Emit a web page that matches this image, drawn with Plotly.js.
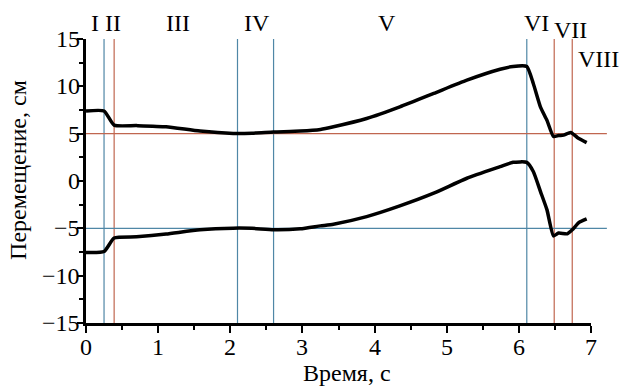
<!DOCTYPE html>
<html>
<head>
<meta charset="utf-8">
<script src="https://cdn.plot.ly/plotly-3.0.1.min.js"></script>
<style>html,body{margin:0;padding:0;background:#fff;}#chart{width:622px;height:390px;}</style>
</head>
<body>
<div id="chart"></div>
<script>
// Upper curve
const t1 = [0, 0.25, 0.39, 0.7, 1.11, 1.58, 2.04, 2.3, 2.6, 2.97, 3.25, 3.43, 3.89, 4.35, 4.82, 5.28, 5.74, 5.92, 6.11, 6.2, 6.3, 6.39, 6.48, 6.55, 6.62, 6.72, 6.81, 6.94];
const y1 = [7.4, 7.4, 5.9, 5.85, 5.73, 5.27, 5.03, 5.05, 5.17, 5.27, 5.45, 5.73, 6.6, 7.83, 9.25, 10.65, 11.8, 12.1, 12.1, 10.3, 7.8, 6.4, 4.7, 4.8, 4.85, 5.13, 4.6, 4.05];
// Lower curve
const t2 = [0, 0.25, 0.39, 0.7, 1.11, 1.58, 2.04, 2.3, 2.6, 2.97, 3.25, 3.43, 3.89, 4.35, 4.82, 5.28, 5.74, 5.92, 6.11, 6.2, 6.3, 6.39, 6.48, 6.55, 6.67, 6.74, 6.83, 6.94];
const y2 = [-7.55, -7.45, -6.03, -5.9, -5.6, -5.15, -4.98, -5.0, -5.15, -5.05, -4.74, -4.56, -3.76, -2.63, -1.29, 0.29, 1.51, 1.97, 1.97, 1.0, -1.12, -3.05, -5.8, -5.5, -5.58, -5.16, -4.39, -4.0];

// Tick labels
const xTickVals = [0, 1, 2, 3, 4, 5, 6, 7];
const xTickText = ['0', '1', '2', '3', '4', '5', '6', '7'];
const yTickVals = [-15, -10, -5, 0, 5, 10, 15];
const yTickText = ['−15', '−10', '−5', '0', '5', '10', '15'];
const xTitle = 'Время, с';
const yTitle = 'Перемещение, см';

// Phase boundaries
const vlineX = [0.25, 0.39, 2.1, 2.6, 6.11, 6.49, 6.74];
const vlineKind = ['b', 'r', 'b', 'b', 'b', 'r', 'r'];
// Horizontal reference levels
const hlineY = [5, -5];
const hlineKind = ['r', 'b'];
const hlineEnd = [7.22, 7.22];
// Phase labels
const phaseLabels = ['I', 'II', 'III', 'IV', 'V', 'VI', 'VII', 'VIII'];
const phaseLabelX = [0.13, 0.37, 1.27, 2.37, 4.17, 6.25, 6.71, 7.1];
const phaseLabelRow = [0, 0, 0, 0, 0, 0, 1, 2];

const xRange = [0, 7];
const yRange = [-15, 15];
const colors = {b: '#4f87a6', r: '#c0664f'};
const font = "'Liberation Serif', 'Times New Roman', Times, serif";
const txtFont = {family: font, size: 24, color: '#000'};
const toPaperX = x => (x - xRange[0]) / (xRange[1] - xRange[0]);

const traces = [
  {x: t1, y: y1, mode: 'lines', line: {color: '#000', width: 3.5, shape: 'spline', smoothing: 0.5}, hoverinfo: 'skip', showlegend: false},
  {x: t2, y: y2, mode: 'lines', line: {color: '#000', width: 3.5, shape: 'spline', smoothing: 0.5}, hoverinfo: 'skip', showlegend: false}
];

const shapes = [];
vlineX.forEach((x, i) => shapes.push({type: 'line', xref: 'x', yref: 'paper', x0: x, x1: x, y0: 0, y1: 1,
  line: {color: colors[vlineKind[i]], width: 1.2}, layer: 'below'}));
hlineY.forEach((y, i) => shapes.push({type: 'line', xref: 'paper', yref: 'y',
  x0: 0, x1: toPaperX(hlineEnd[i]), y0: y, y1: y,
  line: {color: colors[hlineKind[i]], width: 1.2}, layer: 'below'}));

const annotations = [];
const rowY = [1.055, 1.03, 0.93];
phaseLabels.forEach((txt, i) => annotations.push({
  text: txt, x: toPaperX(phaseLabelX[i]), xref: 'paper', y: rowY[phaseLabelRow[i]], yref: 'paper',
  xanchor: 'center', yanchor: 'middle', showarrow: false, font: txtFont
}));
xTickVals.forEach((v, i) => annotations.push({
  text: xTickText[i], x: v, xref: 'x', y: 0, yref: 'paper', xanchor: 'center', yanchor: 'top',
  yshift: -9, showarrow: false, font: txtFont
}));
yTickVals.forEach((v, i) => annotations.push({
  text: yTickText[i], x: 0, xref: 'paper', y: v, yref: 'y', xanchor: 'right', yanchor: 'middle',
  xshift: -4, showarrow: false, font: txtFont
}));
annotations.push({text: xTitle, x: 0.517, xref: 'paper', y: 0, yref: 'paper', xanchor: 'center', yanchor: 'middle',
  yshift: -50, showarrow: false, font: txtFont});
annotations.push({text: yTitle, x: 0, xref: 'paper', y: 0.539, yref: 'paper', xanchor: 'center', yanchor: 'middle',
  xshift: -68, textangle: -90, showarrow: false, font: txtFont});

const layout = {
  width: 622, height: 390,
  margin: {l: 86, r: 31, t: 39, b: 67},
  font: txtFont,
  showlegend: false,
  xaxis: {
    range: xRange, dtick: 1, tick0: 0, showgrid: false, zeroline: false, showticklabels: false,
    showline: true, linewidth: 2.5, linecolor: '#000',
    ticks: 'outside', ticklen: 7, tickwidth: 2, tickcolor: '#000',
    minor: {dtick: 0.5, ticks: 'outside', ticklen: 4, tickwidth: 2, tickcolor: '#000', showgrid: false}
  },
  yaxis: {
    range: yRange, dtick: 5, tick0: 0, showgrid: false, zeroline: false, showticklabels: false,
    showline: true, linewidth: 2.5, linecolor: '#000',
    ticks: 'outside', ticklen: 6, tickwidth: 2, tickcolor: '#000',
    minor: {dtick: 2.5, ticks: 'outside', ticklen: 4, tickwidth: 2, tickcolor: '#000', showgrid: false}
  },
  shapes: shapes,
  annotations: annotations
};

Plotly.newPlot('chart', traces, layout, {displayModeBar: false});
</script>
</body>
</html>
